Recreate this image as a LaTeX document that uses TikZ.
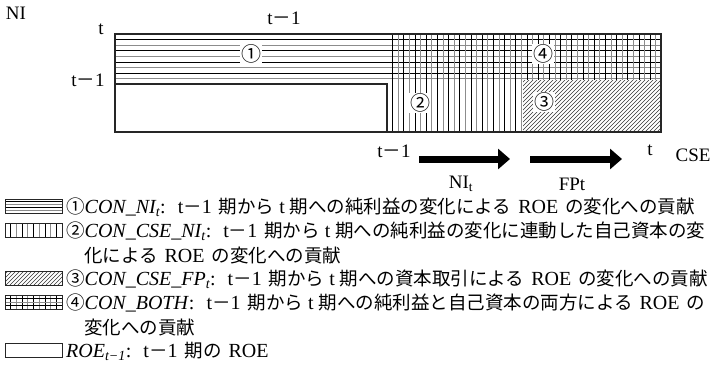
\documentclass[tikz,border=0pt]{standalone}
\usepackage{fontspec}
\setmainfont{Liberation Serif}
\newfontfamily\jp{Noto Sans CJK JP}
\usetikzlibrary{arrows.meta}
\newcommand\J[1]{{\jp\fontsize{18.5}{20}\selectfont #1}}
\newcommand\tmo{t\J{－}1}
\newcommand\gapsm{\hspace{5pt}}
\newcommand\gapmd{\hspace{7pt}}
\begin{document}
\begin{tikzpicture}[x=1pt,y=-1pt,
  lbl/.style={inner sep=0pt, font=\fontsize{19}{20}\selectfont},
  circ/.style={fill=white, inner sep=0.6pt, font=\jp\fontsize{20}{22}\selectfont},
  leg/.style={anchor=west, inner sep=0pt, font=\fontsize{20}{22}\selectfont},
  hk/.style={line width=0.8pt, black},
  hg/.style={line width=0.8pt, black!45},
  dg/.style={line width=0.6pt, black!80},
  frame/.style={line width=2.5pt, black!85},
  swbox/.style={line width=1pt, black!85},
  bigarrow/.style={line width=7pt, -{Triangle[length=12pt,width=20pt]}},
]
\useasboundingbox (0,0) rectangle (728,377);

% ---------- hatching of the main chart ----------
\foreach \k in {1,...,8} {
  \pgfmathsetmacro\yy{34+5.6*\k}
  \ifodd\k \draw[hk] (115,\yy) -- (661,\yy); \else \draw[hg] (115,\yy) -- (661,\yy); \fi
}
\foreach \k in {1,...,48} {
  \pgfmathsetmacro\xx{387+5.6*\k}
  \pgfmathsetmacro\yb{\xx<523 ? 132 : 80}
  \ifodd\k \draw[hk] (\xx,34) -- (\xx,\yb); \else \draw[hg] (\xx,34) -- (\xx,\yb); \fi
}
\begin{scope}
  \clip (523,81) rectangle (661,132);
  \foreach \k in {0,...,50} {
    \draw[dg] (467+4*\k,134) -- ++(56,-56);
  }
\end{scope}

% ---------- frames ----------
\draw[frame] (115,34) rectangle (661,132);
\draw[line width=2pt, black!85] (115,84.4) -- (387,84.4) -- (387,132);

% ---------- circled numbers ----------
\node[circ] (c1) at (251,54) {①};
\node[circ] (c2) at (420,103) {②};
\node[circ] (c3) at (544,102) {③};
\node[circ] (c4) at (543,54) {④};

% ---------- axis labels ----------
\node[lbl] (ni) at (16,13) {NI};
\node[lbl] (tl) at (101,29) {t};
\node[lbl] (tm1l) at (88,80) {\tmo};
\node[lbl] (tm1t) at (284,18) {\tmo};
\node[lbl] (tm1b) at (394,151) {\tmo};
\node[lbl] (tb) at (650,150) {t};
\node[lbl] (cse) at (693,155) {CSE};
\node[lbl] (nit) at (461,184) {NI\textsubscript{t}};
\node[lbl] (fpt) at (572,184) {FPt};

% ---------- arrows ----------
\coordinate (a1s) at (419,159);
\coordinate (a1e) at (510,159);
\coordinate (a2s) at (530,159);
\coordinate (a2e) at (622,159);
\draw[bigarrow] (a1s) -- (a1e);
\draw[bigarrow] (a2s) -- (a2e);

% ---------- legend swatches ----------
% 1 horizontal
\foreach \k in {1,...,4} {
  \pgfmathsetmacro\yy{199+2.8*\k}
  \ifodd\k \draw[hk] (5,\yy) -- (62,\yy); \else \draw[hg] (5,\yy) -- (62,\yy); \fi
}
\draw[swbox] (5,199) rectangle (62,213);
% 2 vertical
\foreach \k in {1,...,9} {
  \pgfmathsetmacro\xx{5+5.7*\k}
  \ifodd\k \draw[hk] (\xx,223) -- (\xx,237); \else \draw[hg] (\xx,223) -- (\xx,237); \fi
}
\draw[swbox] (5,223) rectangle (62,237);
% 3 diagonal
\begin{scope}
  \clip (5,271) rectangle (62,285);
  \foreach \k in {0,...,20} {
    \draw[dg] (-12+4*\k,287) -- ++(18,-18);
  }
\end{scope}
\draw[swbox] (5,271) rectangle (62,285);
% 4 grid
\foreach \k in {1,...,9} {
  \pgfmathsetmacro\xx{5+5.7*\k}
  \ifodd\k \draw[hk] (\xx,295) -- (\xx,309); \else \draw[hg] (\xx,295) -- (\xx,309); \fi
}
\foreach \k in {1,...,3} {
  \pgfmathsetmacro\yy{295+3.5*\k}
  \ifodd\k \draw[hk] (5,\yy) -- (62,\yy); \else \draw[hg] (5,\yy) -- (62,\yy); \fi
}
\draw[swbox] (5,295) rectangle (62,309);
% 5 empty
\draw[swbox] (5,343) rectangle (62,357);

% ---------- legend texts ----------
\node[leg] (l1) at (66,207) {\J{①}\textit{CON\_NI\textsubscript{t}}:\hspace{12pt}\tmo\gapmd\J{期から}\gapsm t\gapsm\J{期への純利益の変化による}\gapmd ROE\gapmd\J{の変化への貢献}};
\node[leg] (l2) at (66,231) {\J{②}\textit{CON\_CSE\_NI\textsubscript{t}}:\hspace{12pt}\tmo\gapmd\J{期から}\gapsm t\gapsm\J{期への純利益の変化に連動した自己資本の変}};
\node[leg] (l2b) at (84,255) {\J{化による}\gapmd ROE\gapmd\J{の変化への貢献}};
\node[leg] (l3) at (66,279) {\J{③}\textit{CON\_CSE\_FP\textsubscript{t}}:\hspace{12pt}\tmo\gapmd\J{期から}\gapsm t\gapsm\J{期への資本取引による}\gapmd ROE\gapmd\J{の変化への貢献}};
\node[leg] (l4) at (66,303) {\J{④}\textit{CON\_BOTH}:\hspace{12pt}\tmo\gapmd\J{期から}\gapsm t\gapsm\J{期への純利益と自己資本の両方による}\gapmd ROE\gapmd\J{の}};
\node[leg] (l4b) at (84,327) {\J{変化への貢献}};
\node[leg] (l5) at (66,351) {\textit{ROE\textsubscript{t−1}}:\hspace{12pt}\tmo\gapmd\J{期の}\gapmd ROE};
\end{tikzpicture}
\end{document}
